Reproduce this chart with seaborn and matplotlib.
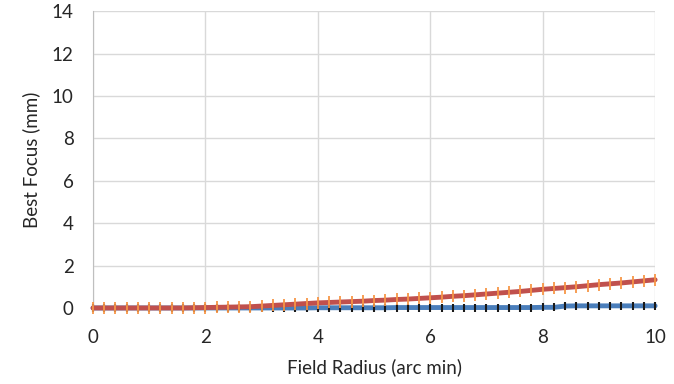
import numpy as np
import pandas as pd
import seaborn as sns
import matplotlib.pyplot as plt

# field radius (arc min), 0.2 step
radius = [round(0.2 * i, 1) for i in range(51)]

# best focus, red series (mm)
focus_red = [0.00, 0.00, 0.00, 0.00, 0.00, 0.00, 0.00, 0.00, 0.00, 0.01,
             0.02, 0.03, 0.04, 0.05, 0.06, 0.09, 0.12, 0.15, 0.18, 0.21,
             0.24, 0.26, 0.28, 0.30, 0.32, 0.35, 0.37, 0.40, 0.42, 0.45,
             0.48, 0.51, 0.55, 0.58, 0.62, 0.66, 0.70, 0.74, 0.78, 0.83,
             0.88, 0.92, 0.96, 1.00, 1.05, 1.10, 1.14, 1.18, 1.23, 1.28,
             1.33]

# best focus, blue series (mm)
focus_blue = [0.00, 0.00, 0.00, 0.00, 0.00, 0.00, 0.00, 0.00, 0.00, 0.00,
              0.00, 0.00, 0.00, 0.00, 0.00, 0.00, 0.00, 0.00, 0.00, 0.00,
              0.01, 0.01, 0.01, 0.01, 0.01, 0.01, 0.01, 0.02, 0.02, 0.02,
              0.02, 0.02, 0.02, 0.02, 0.02, 0.02, 0.02, 0.02, 0.02, 0.02,
              0.03, 0.03, 0.09, 0.10, 0.10, 0.10, 0.10, 0.10, 0.10, 0.10,
              0.10]

df = pd.DataFrame({'radius': radius, 'red': focus_red, 'blue': focus_blue})

sns.set_style('white')
plt.rcParams['font.family'] = ['Lato', 'DejaVu Sans']

fig = plt.figure(figsize=(6.74, 3.84), dpi=100)
ax = fig.add_axes([0.138, 0.198, 0.834, 0.773])

sns.lineplot(data=df, x='radius', y='blue', ax=ax, color='#4A7EBB', linewidth=3.5,
             marker='|', markersize=6, markeredgewidth=1.5,
             markeredgecolor='#1a1a1a', zorder=3, clip_on=False)
sns.lineplot(data=df, x='radius', y='red', ax=ax, color='#C0504D', linewidth=3.5,
             marker='|', markersize=9, markeredgewidth=1.3,
             markeredgecolor='#F79646', zorder=4, clip_on=False)

ax.set_xlim(0, 10)
ax.set_ylim(0, 14)
ax.set_xticks(range(0, 11, 2))
ax.set_yticks(range(0, 15, 2))
ax.grid(True, color='#D9D9D9', linewidth=1)
ax.set_axisbelow(True)
for s in ['top', 'right', 'bottom']:
    ax.spines[s].set_visible(False)
ax.spines['left'].set_color('#BFBFBF')
ax.tick_params(axis='both', length=0, labelsize=13.5, colors='#262626')
ax.tick_params(axis='x', pad=15)
ax.tick_params(axis='y', pad=14)
ax.set_xlabel('Field Radius (arc min)', fontsize=13.5, color='#262626', labelpad=9)
ax.set_ylabel('Best Focus (mm)', fontsize=13.5, color='#262626', labelpad=8)

fig.savefig('out.png', dpi=100)
